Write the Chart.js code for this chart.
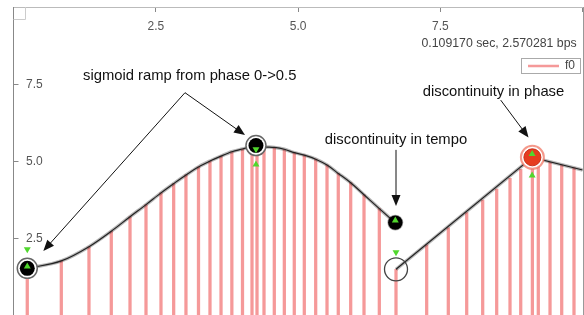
<!DOCTYPE html>
<html lang="en">
<head>
  <meta charset="UTF-8">
  <title>Tempo and phase</title>
  <script src="https://cdn.jsdelivr.net/npm/chart.js"></script>
  <style>
    html, body {
      margin: 0;
      padding: 0;
      overflow: hidden;
      background: #fff;
    }
    .wrap {
      position: relative;
      width: 584px;
      height: 320px;
    }
  </style>
</head>
<body>

  <div class="wrap"><canvas id="tempoChart"></canvas></div>

  <script>
    // beat pulses (sec) and the tempo at each pulse (bps)
    const beatTimes = [0.242, 0.840, 1.326, 1.718, 2.047, 2.328, 2.591, 2.814, 3.030, 3.250,
                       3.452, 3.646, 3.836, 4.023, 4.190, 4.278, 4.401, 4.582, 4.758, 4.933,
                       5.109, 5.309, 5.508, 5.706, 5.924, 6.158, 6.427, 6.720, 7.259, 7.639,
                       7.962, 8.243, 8.489, 8.723, 8.911, 9.116, 9.220, 9.426, 9.631, 9.847];
    const beatTempo = [1.55, 1.79, 2.25, 2.75, 3.22, 3.61, 3.99, 4.29, 4.57, 4.83,
                       5.02, 5.18, 5.32, 5.41, 5.49, 5.52, 5.48, 5.46, 5.40, 5.29,
                       5.21, 5.08, 4.89, 4.62, 4.32, 3.93, 3.48, 1.52, 2.31, 2.86,
                       3.35, 3.76, 4.11, 4.46, 4.75, 5.14, 5.08, 4.98, 4.89, 4.80];

    // tempo curve: sigmoid part up to the tempo jump, then the straight part
    const rampTimes = [0.242, 0.840, 1.326, 1.718, 2.047, 2.328, 2.591, 2.814, 3.030, 3.250,
                       3.452, 3.646, 3.836, 4.023, 4.190, 4.278, 4.401, 4.582, 4.758, 4.933,
                       5.109, 5.309, 5.508, 5.706, 5.924, 6.158, 6.427, 6.708];
    const rampTempo = [1.55, 1.79, 2.25, 2.75, 3.22, 3.61, 3.99, 4.29, 4.57, 4.83,
                       5.02, 5.18, 5.32, 5.41, 5.49, 5.52, 5.48, 5.46, 5.40, 5.29,
                       5.21, 5.08, 4.89, 4.62, 4.32, 3.93, 3.48, 3.02];
    const lineTimes = [6.720, 9.116, 10.0];
    const lineTempo = [1.52, 5.14, 4.73];

    // markers
    const ringTimes = [0.242, 4.260];
    const ringTempo = [1.55, 5.52];
    const dotTimes = [6.708];
    const dotTempo = [3.03];
    const openTimes = [6.720];
    const openTempo = [1.52];
    const redTimes = [9.116];
    const redTempo = [5.14];
    const upTimes = [0.242, 4.260, 6.708, 9.112, 9.112];
    const upTempo = [1.61, 4.91, 3.10, 5.25, 4.55];
    const downTimes = [0.242, 4.260, 6.720];
    const downTempo = [2.17, 5.40, 2.07];

    const xTicks = [0, 2.5, 5, 7.5, 10];
    const xTickLabels = ['', '2.5', '5.0', '7.5', ''];
    const yTicks = [0, 2.5, 5, 7.5, 10];
    const yTickLabels = ['', '2.5', '5.0', '7.5', ''];

    const caption = '0.109170 sec, 2.570281 bps';
    const seriesName = 'f0';

    const pts = (xs, ys) => xs.map((x, i) => ({ x: x, y: ys[i] }));

    const STEM = 'rgba(240, 100, 100, 0.66)';
    const GREEN = 'rgb(80, 215, 45)';
    const FONT = '"Liberation Sans", Arial, Helvetica, sans-serif';

    Chart.defaults.font.family = FONT;

    function arrow(ctx, x1, y1, x2, y2) {
      const a = Math.atan2(y2 - y1, x2 - x1), len = 11, w = 4.5;
      ctx.beginPath();
      ctx.moveTo(x1, y1);
      ctx.lineTo(x2 - 4 * Math.cos(a), y2 - 4 * Math.sin(a));
      ctx.stroke();
      ctx.beginPath();
      ctx.moveTo(x2, y2);
      ctx.lineTo(x2 - len * Math.cos(a) + w * Math.sin(a), y2 - len * Math.sin(a) - w * Math.cos(a));
      ctx.lineTo(x2 - len * Math.cos(a) - w * Math.sin(a), y2 - len * Math.sin(a) + w * Math.cos(a));
      ctx.closePath();
      ctx.fill();
    }

    const extras = {
      id: 'extras',
      afterDraw(chart) {
        const { ctx, chartArea: a, scales: { x, y } } = chart;
        const px = v => x.getPixelForValue(v);
        const py = v => y.getPixelForValue(v);
        ctx.save();

        // right frame + little corner box
        ctx.strokeStyle = '#999';
        ctx.lineWidth = 1;
        ctx.beginPath();
        ctx.moveTo(Math.round(a.right) + 0.5, a.top);
        ctx.lineTo(Math.round(a.right) + 0.5, a.bottom);
        ctx.stroke();
        ctx.strokeStyle = '#ccc';
        ctx.beginPath();
        ctx.moveTo(25.5, a.top);
        ctx.lineTo(25.5, 19.5);
        ctx.lineTo(a.left, 19.5);
        ctx.stroke();

        // caption and legend
        ctx.fillStyle = '#444';
        ctx.font = '12.3px ' + FONT;
        ctx.textAlign = 'right';
        ctx.textBaseline = 'middle';
        ctx.fillText(caption, a.right - 6, 44);

        ctx.strokeStyle = '#aaa';
        ctx.lineWidth = 1;
        ctx.strokeRect(521.5, 58.5, 59, 15);
        ctx.strokeStyle = STEM;
        ctx.lineWidth = 2.5;
        ctx.beginPath();
        ctx.moveTo(528, 66);
        ctx.lineTo(559, 66);
        ctx.stroke();
        ctx.font = '12px ' + FONT;
        ctx.textAlign = 'left';
        ctx.fillText(seriesName, 565, 66);

        // annotations
        ctx.fillStyle = '#111';
        ctx.strokeStyle = '#111';
        ctx.lineWidth = 1;
        ctx.font = '14.8px ' + FONT;
        ctx.textAlign = 'center';
        ctx.fillText('sigmoid ramp from phase 0->0.5', px(3.096), py(7.77));
        arrow(ctx, px(3.013), py(7.23), px(0.524), py(2.11));
        arrow(ctx, px(3.013), py(7.23), px(4.067), py(5.86));

        ctx.fillText('discontinuity in tempo', px(6.720), py(5.70));
        arrow(ctx, px(6.720), py(5.38), px(6.720), py(3.57));

        ctx.fillText('discontinuity in phase', px(8.433), py(7.26));
        arrow(ctx, px(8.559), py(6.99), px(9.048), py(5.78));

        ctx.restore();
      }
    };

    const scatterSet = (data, opts) => Object.assign({
      type: 'scatter',
      data: data,
      pointStyle: 'circle',
      pointHoverRadius: 0,
      clip: false
    }, opts);

    new Chart(document.getElementById('tempoChart'), {
      type: 'bar',
      data: {
        datasets: [
          {
            type: 'bar',
            label: seriesName,
            data: pts(beatTimes, beatTempo),
            backgroundColor: STEM,
            barThickness: 2.6,
            order: 10
          },
          {
            type: 'line',
            data: pts(rampTimes, rampTempo),
            borderColor: 'rgba(0, 0, 0, 0.28)',
            borderWidth: 3.5,
            pointRadius: 0,
            cubicInterpolationMode: 'monotone',
            order: 9
          },
          {
            type: 'line',
            data: pts(lineTimes, lineTempo),
            borderColor: 'rgba(0, 0, 0, 0.28)',
            borderWidth: 3.5,
            pointRadius: 0,
            tension: 0,
            order: 9
          },
          {
            type: 'line',
            data: pts(rampTimes, rampTempo),
            borderColor: '#222',
            borderWidth: 1.2,
            pointRadius: 0,
            cubicInterpolationMode: 'monotone',
            order: 8
          },
          {
            type: 'line',
            data: pts(lineTimes, lineTempo),
            borderColor: '#222',
            borderWidth: 1.2,
            pointRadius: 0,
            tension: 0,
            order: 8
          },
          scatterSet(pts(ringTimes, ringTempo), {
            pointRadius: 10, backgroundColor: '#fff', borderColor: '#666', borderWidth: 1.5, order: 6
          }),
          scatterSet(pts(redTimes, redTempo), {
            pointRadius: 11.5, backgroundColor: '#fff', borderColor: 'rgba(240, 110, 90, 0.7)', borderWidth: 2, order: 6
          }),
          scatterSet(pts(ringTimes, ringTempo), {
            pointRadius: 7.5, backgroundColor: '#000', borderColor: '#000', borderWidth: 0, order: 5
          }),
          scatterSet(pts(dotTimes, dotTempo), {
            pointRadius: 7.2, backgroundColor: '#000', borderColor: 'rgba(0, 0, 0, 0.35)', borderWidth: 1.5, order: 5
          }),
          scatterSet(pts(openTimes, openTempo), {
            pointRadius: 11.5, backgroundColor: 'rgba(0, 0, 0, 0)', borderColor: '#444', borderWidth: 1.3, order: 5
          }),
          scatterSet(pts(redTimes, redTempo), {
            pointRadius: 8.5, backgroundColor: '#e63c1e', borderColor: '#c9301a', borderWidth: 1, order: 5
          }),
          scatterSet(pts(upTimes, upTempo), {
            pointStyle: 'triangle', pointRadius: 4, backgroundColor: GREEN, borderColor: GREEN, borderWidth: 0, order: 1
          }),
          scatterSet(pts(downTimes, downTempo), {
            pointStyle: 'triangle', rotation: 180, pointRadius: 4, backgroundColor: GREEN, borderColor: GREEN, borderWidth: 0, order: 1
          })
        ]
      },
      options: {
        responsive: true,
        maintainAspectRatio: false,
        animation: false,
        layout: { autoPadding: false, padding: { top: 0, left: 0, right: 1.3, bottom: 3.7 } },
        plugins: {
          legend: { display: false },
          tooltip: { enabled: false }
        },
        scales: {
          x: {
            type: 'linear',
            position: 'top',
            min: 0,
            max: 10,
            offset: false,
            afterBuildTicks: s => { s.ticks = xTicks.map(v => ({ value: v })); },
            afterFit: s => { s.height = 7; s.paddingLeft = 0; s.paddingRight = 0; },
            grid: { drawOnChartArea: false, offset: false, tickLength: -5, color: '#888' },
            border: { color: '#bbb' },
            ticks: {
              mirror: true,
              padding: 12,
              color: '#555',
              font: { size: 12 },
              maxRotation: 0,
              autoSkip: false,
              callback: (v, i) => xTickLabels[i]
            }
          },
          y: {
            type: 'linear',
            position: 'left',
            min: 0,
            max: 10,
            afterBuildTicks: s => { s.ticks = yTicks.map(v => ({ value: v })); },
            afterFit: s => { s.width = 13.5; s.paddingTop = 0; s.paddingBottom = 0; },
            grid: { drawOnChartArea: false, tickLength: -5, color: '#888' },
            border: { color: '#888' },
            ticks: {
              mirror: true,
              padding: 12.5,
              color: '#555',
              font: { size: 12 },
              autoSkip: false,
              callback: (v, i) => yTickLabels[i]
            }
          }
        }
      },
      plugins: [extras]
    });
  </script>
</body>
</html>
